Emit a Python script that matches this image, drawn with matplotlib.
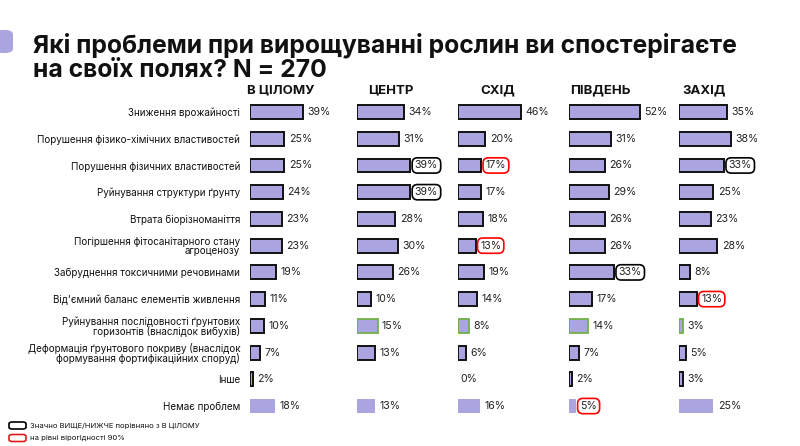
import numpy as np
import matplotlib
matplotlib.use("Agg")
import matplotlib.pyplot as plt
from matplotlib.patches import FancyBboxPatch

plt.rcParams["font.family"] = ["Inter", "DejaVu Sans"]

W, H = 800, 446

categories = [
    "Зниження врожайності",
    "Порушення фізико-хімічних властивостей",
    "Порушення фізичних властивостей",
    "Руйнування структури ґрунту",
    "Втрата біорізноманіття",
    "Погіршення фітосанітарного стану\nагроценозу",
    "Забруднення токсичними речовинами",
    "Від'ємний баланс елементів живлення",
    "Руйнування послідовності ґрунтових\nгоризонтів (внаслідок вибухів)",
    "Деформація ґрунтового покриву (внаслідок\nформування фортифікаційних споруд)",
    "Інше",
    "Немає проблем",
]
regions = ["В ЦІЛОМУ", "ЦЕНТР", "СХІД", "ПІВДЕНЬ", "ЗАХІД"]
overall = [39, 25, 25, 24, 23, 23, 19, 11, 10, 7, 2, 18]
centre = [34, 31, 39, 39, 28, 30, 26, 10, 15, 13, np.nan, 13]
east = [46, 20, 17, 17, 18, 13, 19, 14, 8, 6, 0, 16]
south = [52, 31, 26, 29, 26, 26, 33, 17, 14, 7, 2, 5]
west = [35, 38, 33, 25, 23, 28, 8, 13, 3, 5, 3, 25]
series = [overall, centre, east, south, west]
# significant differences vs overall: (region index, row index) -> marker colour
signif = {(1, 2): "black", (1, 3): "black", (3, 6): "black", (4, 2): "black",
          (2, 2): "red", (2, 5): "red", (4, 7): "red", (3, 11): "red"}

BAR = "#aaa5e0"
RED = "#e3191c"
GREEN = "#72b04a"

fig = plt.figure(figsize=(W / 100, H / 100), dpi=100)

# layout in pixels
bar_x0 = [250, 357, 458, 569, 679]
head_x = [247, 368, 480, 570, 682]
px_per_pct = 1.37
ax_w = 110
row0, row_step = 112, 26.73
top = row0 - row_step / 2
bottom = row0 + row_step * (len(categories) - 0.5)

for i, vals in enumerate(series):
    ax = fig.add_axes([bar_x0[i] / W, 1 - bottom / H, ax_w / W, (bottom - top) / H])
    ax.set_xlim(0, ax_w / px_per_pct)
    ax.set_ylim(len(categories) - 0.5, -0.5)
    for s in ax.spines.values():
        s.set_visible(False)
    ax.set_xticks([])
    y = np.arange(len(categories))
    for r, v in enumerate(vals):
        if np.isnan(v):
            continue
        if r == len(categories) - 1:
            ec, lw = "none", 0
        elif r == 8 and i > 0:
            ec, lw = GREEN, 1.3
        else:
            ec, lw = "#111111", 1.4
        if v > 0:
            ax.barh(r, v, height=0.52, color=BAR, edgecolor=ec, linewidth=lw)
        off = 3.2 if v > 0 else 2.0
        col = signif.get((i, r))
        bbox = None
        if col:
            bbox = dict(boxstyle="round,pad=0.25,rounding_size=0.5", fc="white",
                        ec=col, lw=1.2)
        ax.text(v + off, r, f"{int(v)}%", va="center", ha="left", fontsize=7.6,
                color="#222222", bbox=bbox)
    if i == 0:
        ax.set_yticks(y)
        ax.set_yticklabels(categories, fontsize=7.1, color="#111111",
                           linespacing=0.95)
        ax.tick_params(axis="y", length=0, pad=7)
    else:
        ax.set_yticks([])
    fig.text(head_x[i] / W, 1 - 90 / H, regions[i], fontsize=9.5,
             fontweight="bold", va="center", ha="left", color="#111111")

# title and decoration
fig.patches.append(FancyBboxPatch((-6 / W, 1 - 53 / H), 19 / W, 23 / H,
                                  boxstyle="round,pad=0,rounding_size=0.01",
                                  transform=fig.transFigure, fc="#aba5df", ec="none"))
fig.text(33 / W, 1 - 53 / H, "Які проблеми при вирощуванні рослин ви спостерігаєте",
         fontsize=17.8, fontweight="bold", va="baseline", ha="left", color="#111111")
fig.text(33 / W, 1 - 77 / H, "на своїх полях? N = 270",
         fontsize=17.8, fontweight="bold", va="baseline", ha="left", color="#111111")

# legend
for k, (col, lab) in enumerate([("black", "Значно ВИЩЕ/НИЖЧЕ порівняно з В ЦІЛОМУ"),
                                 (RED, "на рівні вірогідності 90%")]):
    yc = 425.5 + k * 12.5
    fig.patches.append(FancyBboxPatch((9 / W, 1 - (yc + 3.5) / H), 17 / W, 7 / H,
                                      boxstyle="round,pad=0,rounding_size=0.004",
                                      transform=fig.transFigure, fc="white",
                                      ec=col, lw=1.2))
    fig.text(30 / W, 1 - yc / H, lab, fontsize=5.5, va="center", ha="left",
             color="#111111")

fig.savefig("out.png", dpi=100, facecolor="white")
